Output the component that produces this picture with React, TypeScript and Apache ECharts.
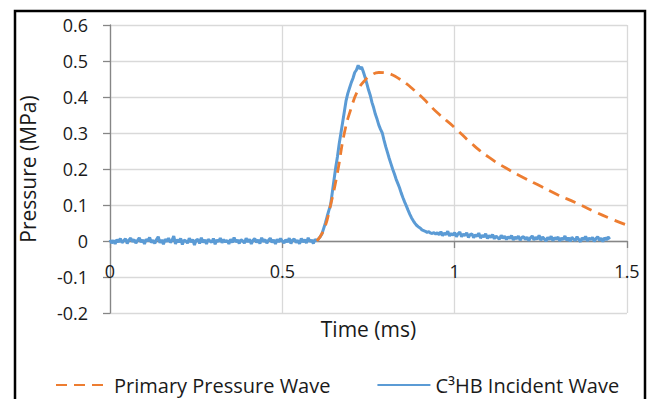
import React, { useEffect, useRef } from "react";
import * as echarts from "echarts";

const seriesNames = ["Primary Pressure Wave", "C³HB Incident Wave"];
const xAxisTitle = "Time (ms)";
const yAxisTitle = "Pressure (MPa)";

// Primary pressure wave (orange, dashed)
const primaryTime = [
  0.6, 0.62, 0.64, 0.66, 0.68, 0.7, 0.72, 0.74, 0.76, 0.78, 0.8, 0.82, 0.84, 0.86,
  0.88, 0.9, 0.92, 0.95, 1.0, 1.05, 1.1, 1.15, 1.2, 1.25, 1.3, 1.35, 1.4, 1.45, 1.5,
];
const primaryPressure = [
  0.0, 0.03, 0.1, 0.19, 0.3, 0.37, 0.42, 0.447, 0.462, 0.468, 0.467, 0.461, 0.45, 0.437,
  0.421, 0.404, 0.385, 0.356, 0.315, 0.27, 0.232, 0.202, 0.176, 0.152, 0.128, 0.107, 0.084, 0.063, 0.044,
];

// C3HB incident wave (blue), sampled every 0.005 ms from 0 ms to 1.45 ms
const incidentStartTime = 0;
const incidentStep = 0.005;
const incidentPressure = [
  // 0.000 - 0.610 ms baseline
  0.003, -0.006, 0.002, -0.008, 0.004, -0.003, 0.007, -0.005, 0.001, 0.006,
  -0.007, 0.003, 0.008, -0.002, 0.004, -0.006, 0.002, 0.009, -0.003, 0.003,
  -0.008, 0.005, 0.0, 0.01, -0.004, 0.002, -0.007, 0.004, 0.012, -0.005,
  0.003, -0.009, 0.005, -0.002, 0.008, -0.004, 0.002, 0.014, -0.008, 0.004,
  -0.003, 0.007, -0.01, 0.003, 0.0, -0.006, 0.008, -0.003, 0.004, -0.011,
  0.002, 0.005, -0.007, 0.009, -0.004, 0.003, -0.008, 0.005, 0.0, -0.004,
  0.007, -0.009, 0.003, -0.002, 0.008, -0.005, 0.004, -0.003, 0.002, -0.008,
  0.005, -0.004, 0.01, -0.003, 0.003, -0.007, 0.004, 0.0, -0.006, 0.008,
  -0.003, 0.005, -0.008, 0.002, 0.007, -0.004, 0.003, -0.007, 0.009, -0.002,
  0.004, -0.006, 0.002, 0.008, -0.004, 0.003, -0.008, 0.005, -0.003, 0.007,
  0.0, -0.006, 0.004, -0.003, 0.008, -0.007, 0.003, 0.005, -0.004, 0.002,
  -0.008, 0.007, -0.003, 0.004, -0.006, 0.009, -0.002, 0.003, -0.007, 0.005,
  0.0, 0.006, 0.012,
  // 0.615 - 0.945 ms pulse
  0.02, 0.035, 0.05, 0.068, 0.085, 0.1, 0.135, 0.17, 0.205, 0.235,
  0.27, 0.3, 0.33, 0.36, 0.39, 0.41, 0.425, 0.44, 0.452, 0.468,
  0.475, 0.488, 0.478, 0.483, 0.47, 0.455, 0.438, 0.42, 0.405, 0.385,
  0.37, 0.352, 0.338, 0.322, 0.31, 0.3, 0.28, 0.262, 0.246, 0.23,
  0.215, 0.2, 0.187, 0.172, 0.16, 0.148, 0.133, 0.12, 0.108, 0.097,
  0.085, 0.074, 0.064, 0.056, 0.049, 0.043, 0.039, 0.036, 0.031, 0.029,
  0.027, 0.024, 0.026, 0.022, 0.021, 0.023, 0.019,
  // 0.950 - 1.450 ms tail
  0.023, 0.017, 0.026, 0.015, 0.022, 0.018, 0.027, 0.014, 0.021, 0.016,
  0.023, 0.012, 0.02, 0.025, 0.012, 0.019, 0.015, 0.023, 0.01, 0.018,
  0.02, 0.009, 0.017, 0.013, 0.022, 0.008, 0.016, 0.011, 0.02, 0.007,
  0.015, 0.01, 0.018, 0.006, 0.014, 0.009, 0.005, 0.016, 0.008, 0.013,
  0.004, 0.012, 0.007, 0.015, 0.003, 0.011, 0.006, 0.014, 0.002, 0.01,
  0.012, 0.004, 0.011, 0.001, 0.009, 0.014, 0.003, 0.01, 0.005, 0.016,
  0.002, 0.011, 0.006, 0.0, 0.01, 0.004, 0.013, 0.001, 0.009, 0.005,
  0.011, 0.0, 0.008, 0.004, 0.014, 0.002, 0.009, -0.001, 0.01, 0.005,
  0.001, 0.012, 0.004, -0.002, 0.009, 0.003, 0.013, 0.0, 0.008, 0.004,
  0.01, -0.001, 0.007, 0.012, 0.002, 0.008, -0.002, 0.009, 0.003, 0.011,
  0.005,
];

const xMin = 0;
const xMax = 1.5;
const xInterval = 0.5;
const yMin = -0.2;
const yMax = 0.6;
const yInterval = 0.1;

const FONT = "'Open Sans', 'Noto Sans', sans-serif";

export default function App() {
  const ref = useRef<HTMLDivElement>(null);

  useEffect(() => {
    if (!ref.current) return;
    const chart = echarts.init(ref.current, undefined, { renderer: "svg" });

    const primaryData = primaryTime.map((t, i) => [t, primaryPressure[i]]);
    const incidentData = incidentPressure.map((v, i) => [
      +(incidentStartTime + i * incidentStep).toFixed(3),
      v,
    ]);

    const axisColor = "#868686";
    const gridColor = "#d9d9d9";

    chart.setOption({
      animation: false,
      backgroundColor: "#ffffff",
      textStyle: { fontFamily: FONT },
      grid: {
        left: 110,
        right: 23,
        top: 25,
        bottom: 86,
        containLabel: false,
        outerBoundsMode: "none",
      },
      legend: {
        data: [seriesNames[0], seriesNames[1]],
        left: 55,
        top: 375,
        padding: 0,
        itemWidth: 53,
        itemHeight: 14,
        itemGap: 46,
        itemStyle: { opacity: 0 },
        textStyle: { fontFamily: FONT, fontSize: 20, color: "#1a1a1a" },
      },
      xAxis: {
        type: "value",
        min: xMin,
        max: xMax,
        interval: xInterval,
        name: xAxisTitle,
        nameLocation: "middle",
        nameGap: 5,
        nameTextStyle: { fontFamily: FONT, fontSize: 21, color: "#1a1a1a" },
        axisLine: { show: true, onZero: true, lineStyle: { color: axisColor, width: 1.3 } },
        axisTick: { show: true, inside: false, length: 7, lineStyle: { color: axisColor, width: 1.3 } },
        axisLabel: {
          margin: -51,
          fontFamily: FONT,
          fontSize: 18,
          color: "#1a1a1a",
          showMinLabel: true,
          showMaxLabel: true,
        },
        splitLine: { show: true, lineStyle: { color: gridColor, width: 1.3 } },
      },
      yAxis: {
        type: "value",
        min: yMin,
        max: yMax,
        interval: yInterval,
        name: yAxisTitle,
        nameLocation: "middle",
        nameGap: 72,
        nameTextStyle: { fontFamily: FONT, fontSize: 21, color: "#1a1a1a" },
        axisLine: { show: true, onZero: false, lineStyle: { color: axisColor, width: 1.3 } },
        axisTick: { show: true, inside: false, length: 7, lineStyle: { color: axisColor, width: 1.3 } },
        axisLabel: {
          margin: 22,
          fontFamily: FONT,
          fontSize: 18,
          color: "#1a1a1a",
          showMinLabel: true,
          showMaxLabel: true,
        },
        splitLine: { show: true, lineStyle: { color: gridColor, width: 1.3 } },
      },
      graphic: [
        {
          type: "rect",
          silent: true,
          z: 100,
          shape: { x: 15, y: 11, width: 630, height: 420 },
          style: { fill: "none", stroke: "#000000", lineWidth: 2.5 },
        },
      ],
      series: [
        {
          name: seriesNames[1],
          type: "line",
          data: incidentData,
          symbol: "none",
          smooth: false,
          lineStyle: { color: "#5b9bd5", width: 3 },
          itemStyle: { color: "#5b9bd5" },
          z: 2,
        },
        {
          name: seriesNames[0],
          type: "line",
          data: primaryData,
          symbol: "none",
          smooth: true,
          lineStyle: { color: "#ed7d31", width: 2.8, type: [11, 7] },
          itemStyle: { color: "#ed7d31" },
          z: 3,
        },
      ],
    });

    return () => chart.dispose();
  }, []);

  return (
    <div
      ref={ref}
      style={{ position: "absolute", left: 0, top: 0, width: 650, height: 399 }}
    />
  );
}
